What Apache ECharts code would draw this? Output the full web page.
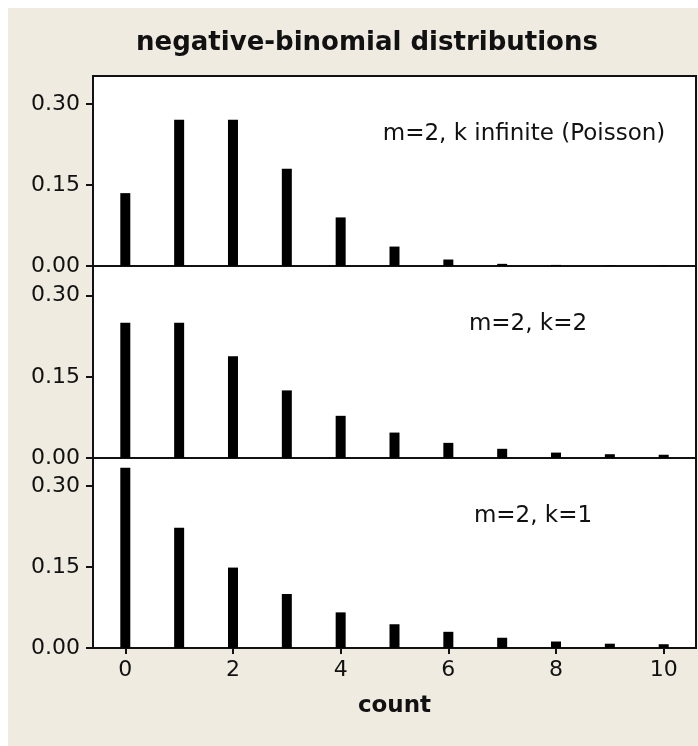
<!DOCTYPE html>
<html>
<head>
<meta charset="utf-8">
<script src="https://cdn.jsdelivr.net/npm/echarts@6/dist/echarts.min.js"></script>
<style>
  html, body { margin: 0; padding: 0; background: #ffffff; }
  #main { width: 698px; height: 746px; }
</style>
</head>
<body>
<div id="main"></div>
<script>
// values
const counts = [0, 1, 2, 3, 4, 5, 6, 7, 8, 9, 10];
const poisson = [0.135, 0.271, 0.271, 0.180, 0.090, 0.036, 0.012, 0.004, 0.002, 0.001, 0.001];
const nbK2 = [0.250, 0.250, 0.188, 0.125, 0.078, 0.047, 0.028, 0.017, 0.010, 0.007, 0.006];
const nbK1 = [0.334, 0.223, 0.149, 0.100, 0.066, 0.044, 0.030, 0.019, 0.012, 0.008, 0.007];
const panelLabels = ["m=2, k infinite (Poisson)", "m=2, k=2", "m=2, k=1"];
const yTicks = [0, 0.15, 0.30];
const xTicks = [0, 2, 4, 6, 8, 10];

const font = "DejaVu Sans";
const ink = "#111111";
const panels = [poisson, nbK2, nbK1];
const tops = [76, 266, 458];
const heights = [190, 192, 190];
const yMax = [0.352, 0.355, 0.352];
const labelPos = [[524, 134], [528, 324], [533, 516]];

const chart = echarts.init(document.getElementById("main"));

const grid = [], xAxis = [], yAxis = [], series = [];
for (let i = 0; i < 3; i++) {
    const last = i === 2;
    grid.push({
        left: 93, right: 2, top: tops[i], height: heights[i],
        show: true, backgroundColor: "#ffffff",
        borderColor: ink, borderWidth: 2
    });
    xAxis.push({
        type: "value", gridIndex: i, min: -0.6, max: 10.6,
        splitLine: { show: false },
        axisLine: { show: true, onZero: false, lineStyle: { color: ink, width: 2 } },
        axisTick: { show: last, length: 6, lineStyle: { color: ink, width: 2 }, customValues: xTicks },
        axisLabel: { show: last, margin: 11, fontFamily: font, fontSize: 22, color: "#111", customValues: xTicks },
        name: last ? "count" : "",
        nameLocation: "middle", nameGap: 47,
        nameTextStyle: { fontFamily: font, fontSize: 23, fontWeight: "bold", color: "#111" }
    });
    yAxis.push({
        type: "value", gridIndex: i, min: 0, max: yMax[i],
        splitLine: { show: false },
        axisLine: { show: true, onZero: false, lineStyle: { color: ink, width: 2 } },
        axisTick: { show: true, length: 7, lineStyle: { color: ink, width: 2 }, customValues: yTicks },
        axisLabel: {
            margin: 13, fontFamily: font, fontSize: 22, color: "#111", customValues: yTicks,
            formatter: function (v) { return v.toFixed(2); }
        }
    });
    series.push({
        type: "bar", xAxisIndex: i, yAxisIndex: i,
        barWidth: 10, itemStyle: { color: "#000000" },
        silent: true,
        data: counts.map((c, j) => [c, panels[i][j]])
    });
}

const graphic = [
    { type: "rect", z: -10, shape: { x: 8, y: 8, width: 690, height: 738 }, style: { fill: "#efebe1" } },
    { type: "text", x: 367, y: 43, style: {
        text: "negative-binomial distributions", fontFamily: font, fontSize: 26, fontWeight: "bold",
        fill: "#111", align: "center", verticalAlign: "middle" } }
];
panelLabels.forEach((t, i) => {
    graphic.push({ type: "text", z: 10, x: labelPos[i][0], y: labelPos[i][1], style: {
        text: t, fontFamily: font, fontSize: 23, fill: "#111", align: "center", verticalAlign: "middle" } });
});

chart.setOption({
    animation: false,
    backgroundColor: "#ffffff",
    grid: grid,
    xAxis: xAxis,
    yAxis: yAxis,
    series: series,
    graphic: graphic
});
</script>
</body>
</html>
